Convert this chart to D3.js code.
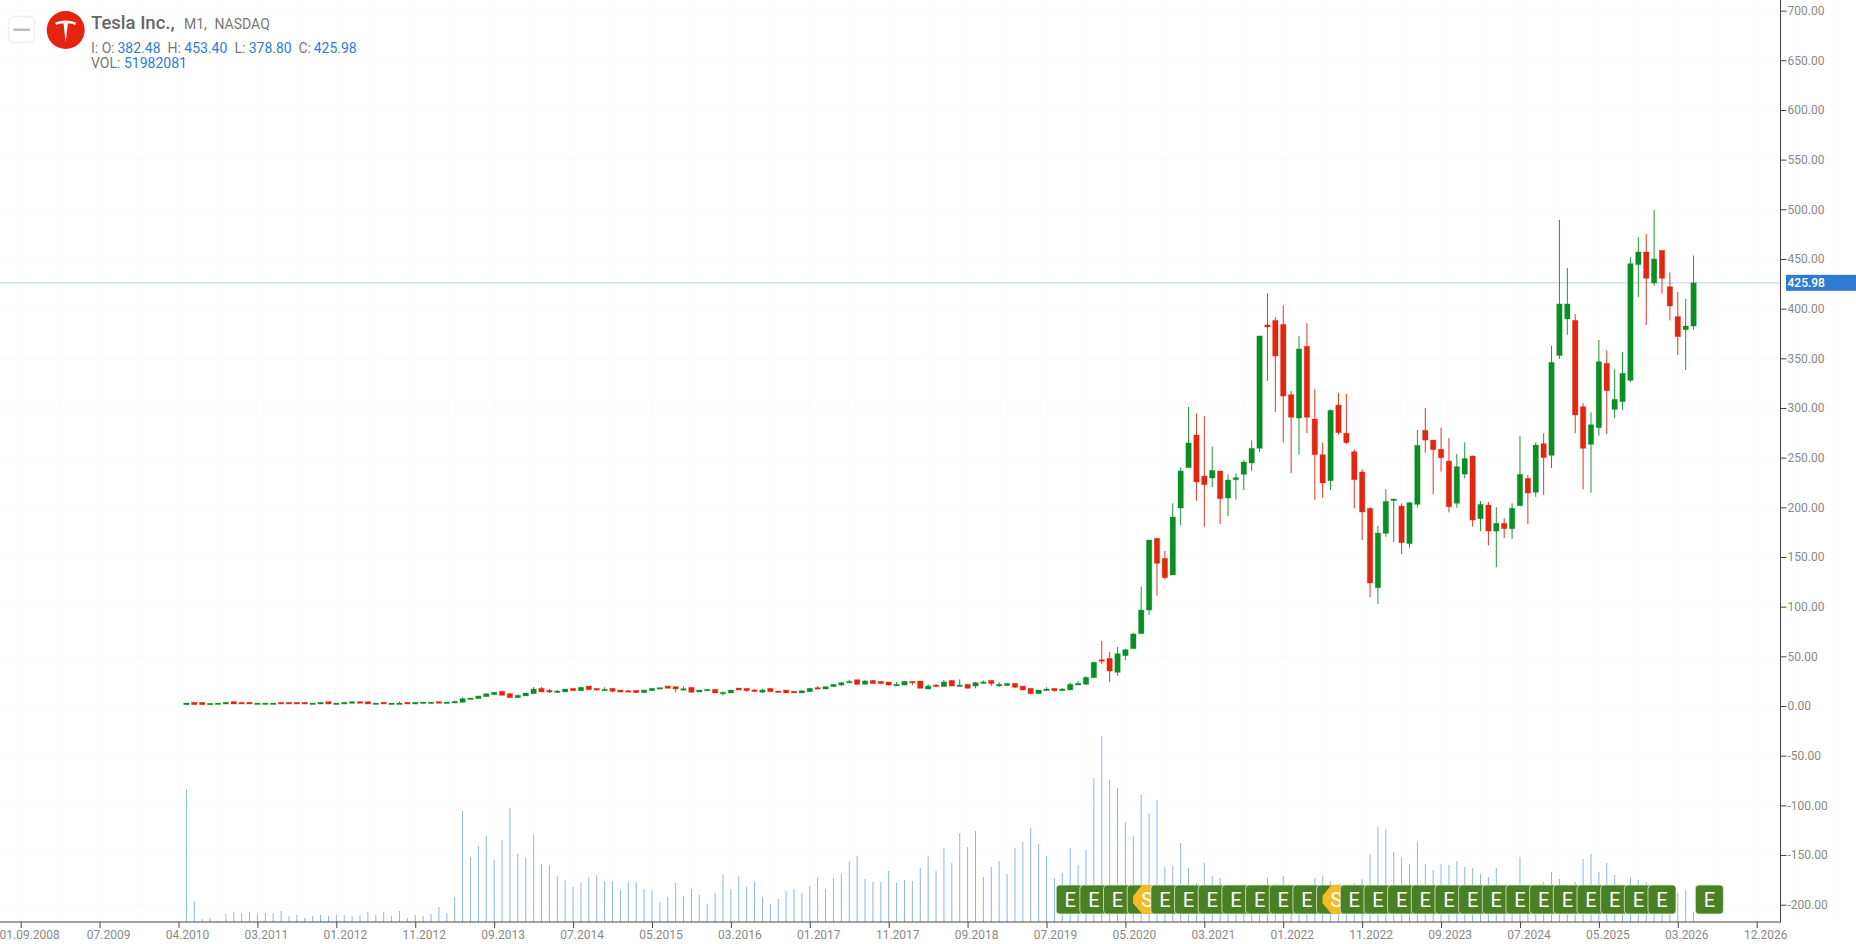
<!DOCTYPE html>
<html>
<head>
<meta charset="utf-8">
<script src="https://cdnjs.cloudflare.com/ajax/libs/d3/7.8.5/d3.min.js"></script>
<style>
  html, body { margin: 0; padding: 0; background: #fff; overflow: hidden; }
  text { font-family: Roboto, sans-serif; }
</style>
</head>
<body>
<svg id="chart" width="1856" height="944"></svg>
<script>
// monthly candles, index 0 is the first bar on the chart
const opens = [
  1.3,3.7,3.7,1.3,2.3,2.0,4.4,3.7,3.7,2.3,
  2.3,2.3,3.7,3.7,3.7,3.7,2.0,2.0,4.4,2.0,
  2.0,2.7,4.4,4.4,2.0,3.7,2.3,2.0,3.7,2.0,
  2.7,2.7,4.4,2.7,3.0,3.7,6.7,7.4,9.4,11.4,
  14.8,12.4,8.4,10.1,12.4,17.8,15.8,13.8,14.1,17.8,
  15.4,20.1,17.8,16.1,17.8,16.1,15.4,15.8,13.4,15.4,
  17.1,20.1,19.5,16.1,18.8,14.1,15.4,16.8,13.1,13.1,
  18.1,17.8,16.1,13.8,17.8,15.1,16.1,14.8,13.1,14.4,
  18.5,17.1,19.5,21.1,23.5,26.5,21.8,25.8,24.8,24.2,
  20.5,21.1,24.8,25.2,17.1,21.1,19.5,25.8,20.5,21.8,
  20.1,22.8,25.8,20.1,20.5,22.8,20.1,17.8,12.4,15.4,
  17.8,15.4,16.1,21.1,21.8,28.5,46.6,48,33.9,50.7,
  57.7,72.8,96.6,168.8,148.6,131.9,199.3,239.9,272.8,231.5,
  229.5,236.6,209.4,227.8,233.2,244.6,259.4,383.5,388.2,384.2,
  313.4,289.9,362.1,288.9,253.0,226.8,303.0,274.5,256.0,235.6,
  199.0,119.1,173.8,206.7,201.3,163.4,203.0,277.5,267.7,258.4,
  246.6,204.0,233.5,251.6,188.6,202.3,176.1,183.9,178.5,201.6,
  229.2,215.1,264.1,252.3,352.7,389.6,388.2,301.3,263.4,280.2,
  345.0,298.6,306.4,327.8,444.3,457.0,425.8,458.7,422.1,392.0,
  378.8,382.48
];
const closes = [
  3.0,1.3,1.3,2.7,3.0,3.7,2.0,2.0,2.0,3.0,
  3.0,3.0,2.0,2.0,2.0,2.0,3.0,3.7,2.0,3.0,
  3.7,4.4,2.7,2.0,3.0,2.0,3.0,3.0,2.0,3.7,
  4.0,4.0,2.7,4.0,4.7,7.4,8.0,10.1,12.4,13.8,
  10.7,8.4,10.7,13.1,17.1,14.1,14.1,15.1,17.1,15.4,
  18.8,16.4,16.1,16.8,14.8,14.1,14.1,13.4,16.1,17.8,
  18.5,17.8,17.1,17.4,13.8,16.1,16.8,13.1,13.8,16.1,
  16.1,15.4,14.8,16.1,14.4,13.8,13.1,13.1,15.4,17.8,
  17.1,19.5,21.8,23.5,24.8,21.8,25.2,22.5,22.5,21.1,
  21.8,24.8,23.5,17.8,20.1,19.5,24.2,20.1,21.1,17.8,
  23.5,24.2,22.5,21.8,22.8,18.8,16.1,12.4,16.1,17.1,
  15.4,17.1,21.8,22.8,28.8,44,45,35.2,52.7,56.7,
  72.5,96.6,167.1,143.6,129.2,190.3,236.6,264.8,225.5,222.8,
  237.2,208.7,227.5,229.8,245.6,259.4,372.5,381.5,352.3,312.0,
  290.6,359.4,290.6,253.0,224.5,297.6,275.1,265.1,227.8,195.3,
  123.8,174.1,206.0,208.4,164.4,204.7,262.4,267.7,258.0,250.0,
  200.6,240.9,249.0,187.2,203.0,176.1,183.9,178.5,199.0,233.2,
  214.4,262.7,250.0,346.0,404.7,404.7,292.9,259.4,283.2,346.6,
  317.4,308.7,334.9,445.3,457.0,430.5,450.0,430.5,402.7,371.8,
  382.5,425.98
];
const highs = [
  3.0,3.7,3.7,2.7,3.0,3.7,4.4,3.7,3.7,3.0,
  3.0,3.0,3.7,3.7,3.7,3.7,3.0,3.7,4.4,3.0,
  3.7,4.4,4.4,4.4,3.0,3.7,3.0,4.4,3.7,3.7,
  4.0,4.0,4.4,4.0,5.4,8.7,8.0,10.1,12.4,13.8,
  14.8,13.1,11.7,13.1,19.1,19.1,17.1,16.1,17.1,17.8,
  19.5,20.1,17.8,18.8,17.8,16.1,16.4,15.8,16.1,17.8,
  18.5,20.1,19.5,19.5,18.8,16.1,16.8,16.8,14.4,16.1,
  18.1,17.8,17.1,17.1,17.8,15.1,16.1,14.8,15.4,17.8,
  20.1,19.5,21.8,24.2,26.5,26.5,26.2,25.8,24.8,24.2,
  24.2,24.8,24.8,25.2,22.1,22.1,26.2,25.8,26.8,21.8,
  24.2,25.8,25.8,23.8,22.8,22.8,20.1,17.8,16.1,18.8,
  17.8,18.1,23.5,25.2,30,44.6,65.4,54.4,59.4,57.4,
  73.8,120.1,167.1,168.8,156.0,204.0,240.3,301.0,294.6,291.9,
  261.1,236.6,233.2,234.2,247.6,267.4,372.5,415.4,391.6,403.3,
  317.1,372.5,385.2,318.8,265.1,298.6,315.1,314.1,258.4,238.2,
  200.0,181.5,218.1,208.4,204.0,205.4,277.8,300.0,267.7,280.2,
  269.8,253.7,265.4,252.3,206.3,205.3,200.0,188.9,204.0,272.1,
  232.5,265.4,274.5,362.7,489.3,441.0,394.6,304.7,295.6,368.4,
  358.0,338.9,356.4,451.7,471.8,475.2,499.3,458.7,436.6,416.8,
  409.7,453.40
];
const lows = [
  1.3,1.3,1.3,1.3,2.3,2.0,2.0,2.0,2.0,2.3,
  2.3,2.3,2.0,2.0,2.0,2.0,2.0,2.0,2.0,2.0,
  2.0,2.7,2.7,2.0,2.0,2.0,2.3,2.0,2.0,2.0,
  2.7,2.7,2.7,2.7,3.0,3.7,6.7,7.4,9.4,11.4,
  10.7,8.4,8.4,10.1,12.4,14.1,13.1,13.1,14.1,15.4,
  15.4,16.4,15.4,16.1,13.8,13.4,14.1,13.4,13.4,15.4,
  17.1,17.8,13.8,16.1,13.8,14.1,15.4,13.1,10.7,13.1,
  16.1,14.4,13.8,13.8,14.4,13.8,13.1,13.1,13.1,14.4,
  17.1,17.1,19.5,20.1,23.5,21.1,21.8,22.5,22.5,20.4,
  20.5,21.1,21.1,17.8,17.1,19.5,19.5,20.1,20.5,17.8,
  17.8,22.8,20.1,19.5,20.5,17.8,16.1,12.4,12.4,15.4,
  14.4,15.4,16.1,21.1,21.8,28.5,42,24.2,30.5,46.3,
  57.7,72.8,91.6,111.1,127.5,131.9,181.5,239.9,206.7,180.5,
  220.5,183.2,191.2,207.7,217.4,236.9,255.7,327.2,296.0,265.1,
  234.2,253.0,274.8,207.7,209.4,217.4,273.1,263.7,199.0,167.1,
  109.4,102.7,170.4,165.1,153.0,159.4,200.0,255.0,213.4,235.9,
  194.9,199.6,229.2,180.5,176.1,161.7,139.6,169.1,168.1,201.6,
  183.2,210.4,212.4,239.6,349.3,373.8,274.5,218.1,214.7,272.1,
  273.8,289.6,298.0,326.1,411.7,383.5,423.1,415.1,388.2,353.3,
  338.2,378.80
];
// volume has no axis on the chart, so these are relative units
const volumes = [
  133,21,3,4,1,8,10,9,10,8,
  9,9,11,6,7,4,6,7,6,7,
  7,6,7,10,7,10,6,11,4,7,
  6,8,15,9,25,111,65,76,86,62,
  82,114,68,64,87,58,57,46,42,35,
  39,45,47,41,41,32,40,40,33,31,
  20,25,39,26,33,27,18,29,48,33,
  46,35,40,25,18,23,31,33,29,36,
  45,33,44,48,61,66,43,40,40,51,
  39,42,41,54,66,51,74,59,89,75,
  91,45,55,61,48,74,80,94,78,66,
  44,49,74,57,72,144,186,142,134,100,
  86,127,109,122,55,56,79,54,39,59,
  46,44,34,30,30,32,30,44,38,46,
  34,33,36,44,46,41,36,33,39,43,
  68,95,93,70,64,58,80,58,52,58,
  57,61,55,54,48,45,54,35,32,65,
  34,34,40,50,43,35,40,63,68,50,
  59,47,35,45,42,40,33,30,30,29,
  32,10
];

const xTickIndex = d3.range(-21, 200, 10);
const xTickLabels = [
  "01.09.2008","07.2009","04.2010","03.2011","01.2012","11.2012","09.2013","07.2014",
  "05.2015","03.2016","01.2017","11.2017","09.2018","07.2019","05.2020","03.2021",
  "01.2022","11.2022","09.2023","07.2024","05.2025","03.2026","12.2026"
];
const yTicks = d3.range(-200, 701, 50);

const earningsIndex = d3.range(112, 188, 3).concat([193]);
const splitIndex = [122, 146];

const lastPrice = 425.98;
const red = "#e32610";
const green = "#0b8e25";
const blue = "#2f7bd2";

const axisX = 1780.5;
const axisY = 922;

const svg = d3.select("#chart");

const x = d3.scaleLinear().domain([-21, 199]).range([20.7, 1756.7]);
const y = d3.scaleLinear().domain([-200, 700]).range([904.7, 10.6]);
const yVol = d3.scaleLinear().domain([0, d3.max(volumes)]).range([axisY, 736]);

// faint grid, vertical every 5 bars
const grid = svg.append("g").attr("stroke", "#fbfbfb");
grid.selectAll("line.v")
  .data(d3.range(-26, 220, 5))
  .join("line")
  .attr("class", "v")
  .attr("x1", (d) => x(d))
  .attr("x2", (d) => x(d))
  .attr("y1", 0)
  .attr("y2", axisY);
grid.selectAll("line.h")
  .data(yTicks)
  .join("line")
  .attr("class", "h")
  .attr("x1", 0)
  .attr("x2", axisX)
  .attr("y1", (d) => y(d))
  .attr("y2", (d) => y(d));

// volume
svg.append("g")
  .attr("fill", "#8db6ee")
  .selectAll("rect")
  .data(volumes)
  .join("rect")
  .attr("x", (d, i) => x(i) - 0.5)
  .attr("width", 1)
  .attr("y", (d) => yVol(d))
  .attr("height", (d) => axisY - yVol(d));

// current price line
svg.append("line")
  .attr("x1", 0)
  .attr("x2", axisX)
  .attr("y1", y(lastPrice))
  .attr("y2", y(lastPrice))
  .attr("stroke", "#cfdff4")
  .attr("stroke-width", 1.6);

// candles
const candles = opens.map((o, i) => ({
  i,
  o,
  c: closes[i],
  h: highs[i],
  l: lows[i],
  up: closes[i] >= o,
}));
const candle = svg.append("g").selectAll("g").data(candles).join("g");
candle.append("line")
  .attr("x1", (d) => x(d.i))
  .attr("x2", (d) => x(d.i))
  .attr("y1", (d) => y(d.h))
  .attr("y2", (d) => y(d.l))
  .attr("stroke", (d) => (d.up ? "#1a9a37" : "#dc3a26"))
  .attr("stroke-width", 1);
candle.append("rect")
  .attr("x", (d) => x(d.i) - 2.7)
  .attr("width", 5.4)
  .attr("y", (d) => y(Math.max(d.o, d.c)))
  .attr("height", (d) => Math.max(1.5, Math.abs(y(d.o) - y(d.c))))
  .attr("fill", (d) => (d.up ? green : red))
  .attr("stroke", (d) => (d.up ? green : red))
  .attr("stroke-opacity", 0.3)
  .attr("stroke-width", 1);

// axes
const xAxis = d3.axisBottom(x)
  .tickValues(xTickIndex)
  .tickFormat((d, i) => xTickLabels[i])
  .tickSize(6)
  .tickPadding(2);
svg.append("g")
  .attr("transform", `translate(0,${axisY})`)
  .call(xAxis)
  .call((g) => g.select(".domain").remove())
  .call((g) => g.selectAll("text")
    .attr("dx", 8.5)
    .attr("fill", "#888")
    .style("font-size", "12px")
    .style("font-family", "Roboto, sans-serif"))
  .call((g) => g.selectAll("line").attr("stroke", "#444"));

const yAxis = d3.axisRight(y)
  .tickValues(yTicks)
  .tickFormat((d) => d.toFixed(2))
  .tickSize(6)
  .tickPadding(1);
svg.append("g")
  .attr("transform", `translate(${axisX},0)`)
  .call(yAxis)
  .call((g) => g.select(".domain").remove())
  .call((g) => g.selectAll("text")
    .attr("fill", "#888")
    .style("font-size", "12px")
    .style("font-family", "Roboto, sans-serif"))
  .call((g) => g.selectAll("line").attr("stroke", "#444"));

svg.append("line")
  .attr("x1", 0).attr("x2", axisX + 0.5)
  .attr("y1", axisY).attr("y2", axisY)
  .attr("stroke", "#444");
svg.append("line")
  .attr("x1", axisX).attr("x2", axisX)
  .attr("y1", 0).attr("y2", axisY)
  .attr("stroke", "#444");

// current price label
svg.append("rect")
  .attr("x", axisX + 5.5)
  .attr("y", y(lastPrice) - 8)
  .attr("width", 70)
  .attr("height", 16)
  .attr("fill", blue);
svg.append("text")
  .attr("x", axisX + 7)
  .attr("y", y(lastPrice) + 4.2)
  .attr("fill", "#fff")
  .attr("font-size", 12)
  .attr("font-weight", 500)
  .text(lastPrice.toFixed(2));

// event markers, later ones sit on top of earlier ones
const events = earningsIndex.map((i) => ({ i, kind: "E" }))
  .concat(splitIndex.map((i) => ({ i, kind: "S" })))
  .sort((a, b) => a.i - b.i);
const markerTop = 885;
const marker = svg.append("g").selectAll("g").data(events).join("g")
  .attr("transform", (d) => `translate(${x(d.i)},${markerTop})`);
marker.filter((d) => d.kind === "E")
  .append("rect")
  .attr("x", -14)
  .attr("width", 28)
  .attr("height", 29)
  .attr("rx", 3.5)
  .attr("fill", "#4a8024")
  .attr("stroke", "#dfe8d6")
  .attr("stroke-width", 0.8);
marker.filter((d) => d.kind === "S")
  .append("path")
  .attr("d", "M-16,11L-7,0L14,0L14,29L-7,29L-16,18Z")
  .attr("fill", "#f2bd24");
marker.append("text")
  .attr("x", (d) => (d.kind === "S" ? -2 : 0))
  .attr("y", 21.5)
  .attr("text-anchor", "middle")
  .attr("fill", "#fff")
  .attr("font-size", 20)
  .text((d) => d.kind);

// header
const head = svg.append("g");
head.append("rect")
  .attr("x", 8.5).attr("y", 16.5)
  .attr("width", 26).attr("height", 26)
  .attr("rx", 6)
  .attr("fill", "#fff")
  .attr("stroke", "#f0f0f0")
  .attr("stroke-width", 1.5);
head.append("rect")
  .attr("x", 13.5).attr("y", 28.5)
  .attr("width", 16.5).attr("height", 2.5)
  .attr("fill", "#bdbdbd");
head.append("circle")
  .attr("cx", 65.7).attr("cy", 30).attr("r", 19)
  .attr("fill", "#e5240f");
head.append("path")
  .attr("transform", "translate(65.7,30)")
  .attr("d", "M-10.5,-7.5Q0,-11.5 10.5,-7.5L9.5,-5Q6,-6.6 2.2,-6.4L0,12L-2.2,-6.4Q-6,-6.6 -9.5,-5Z")
  .attr("fill", "#fff");

const headText = (tx, ty, size, color, str, weight) =>
  head.append("text")
    .attr("x", tx).attr("y", ty)
    .attr("font-size", size)
    .attr("font-weight", weight || 400)
    .attr("fill", color)
    .text(str);
const grey = "#777";
headText(91, 29, 18.5, "#666", "Tesla Inc.,", 500);
headText(184, 28.5, 14, grey, "M1,");
headText(214.5, 28.5, 14, grey, "NASDAQ");
headText(91, 52.5, 14, grey, "I: O:");
headText(117.5, 52.5, 14, blue, "382.48");
headText(167.5, 52.5, 14, grey, "H:");
headText(184.3, 52.5, 14, blue, "453.40");
headText(234.5, 52.5, 14, grey, "L:");
headText(248.7, 52.5, 14, blue, "378.80");
headText(298.5, 52.5, 14, grey, "C:");
headText(313.7, 52.5, 14, blue, "425.98");
headText(91, 68, 14, grey, "VOL:");
headText(124, 68, 14, blue, "51982081");
</script>
</body>
</html>
